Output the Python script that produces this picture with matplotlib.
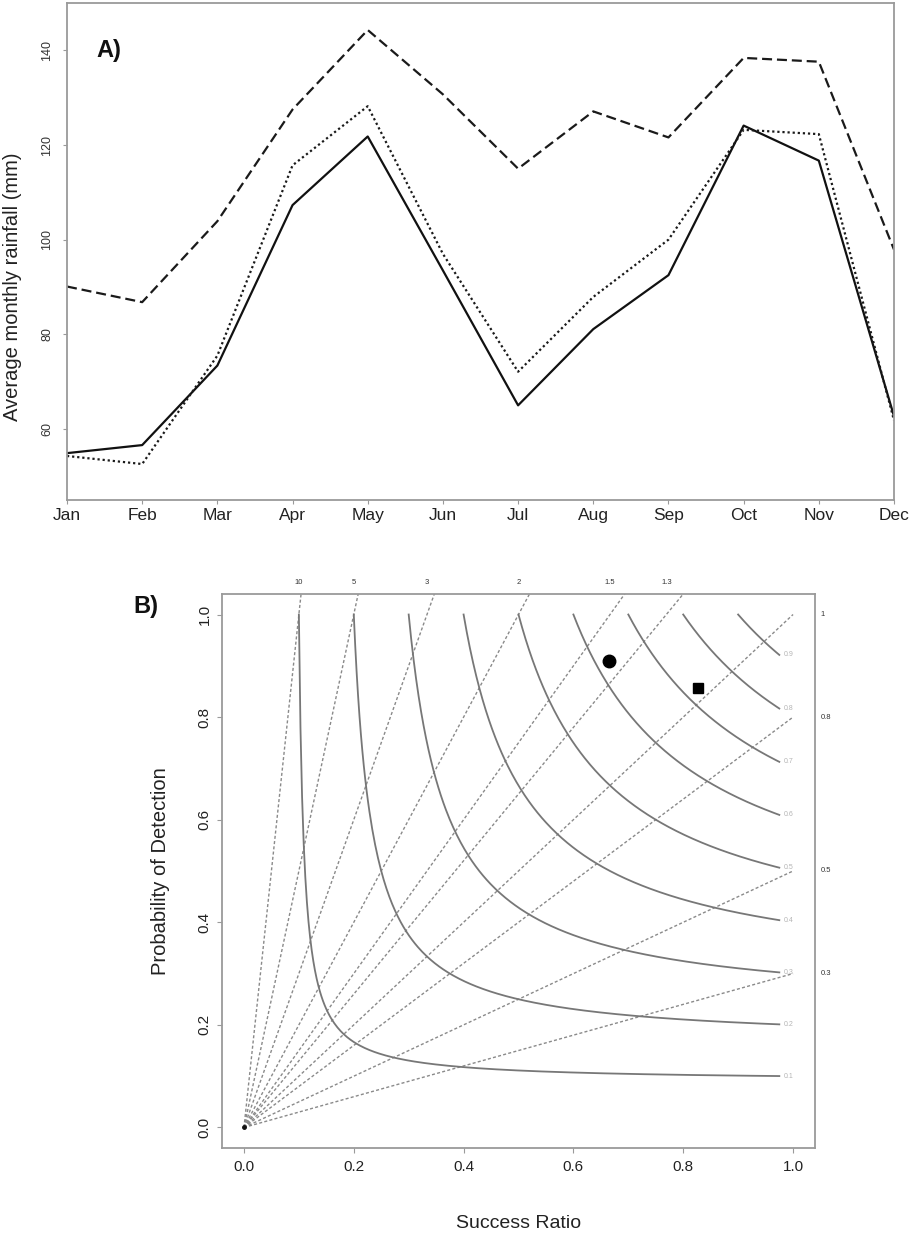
import numpy as np
import matplotlib
matplotlib.use("Agg")
import matplotlib.pyplot as plt

# ---------------- data ----------------
months = ['Jan', 'Feb', 'Mar', 'Apr', 'May', 'Jun', 'Jul', 'Aug', 'Sep', 'Oct', 'Nov', 'Dec']
rain_dashed = [90.1, 86.8, 103.9, 127.5, 144.3, 130.7, 115.0, 127.1, 121.6, 138.4, 137.6, 97.9]
rain_solid = [54.9, 56.6, 73.4, 107.3, 121.8, 93.5, 65.0, 81.1, 92.5, 124.1, 116.7, 62.7]
rain_dotted = [54.3, 52.6, 75.5, 115.7, 128.2, 97.0, 72.1, 87.9, 100.0, 123.2, 122.3, 61.8]
rain_yticks = [60, 80, 100, 120, 140]

csi_levels = [0.1, 0.2, 0.3, 0.4, 0.5, 0.6, 0.7, 0.8, 0.9]
bias_levels = [0.3, 0.5, 0.8, 1, 1.3, 1.5, 2, 3, 5, 10]
bias_labels = ['0.3', '0.5', '0.8', '1', '1.3', '1.5', '2', '3', '5', '10']
point_circle = (0.665, 0.91)
point_square = (0.827, 0.857)
perf_ticks = [0.0, 0.2, 0.4, 0.6, 0.8, 1.0]
perf_ticklabels = ['0.0', '0.2', '0.4', '0.6', '0.8', '1.0']

SANS = ['Liberation Sans', 'DejaVu Sans']
plt.rcParams['font.family'] = SANS

fig = plt.figure(figsize=(9.13, 12.33), dpi=100)
spine_col = '#9a9a9a'

# ---------------- panel A ----------------
ax = fig.add_axes([67/913, 1-500/1233, 827/913, 497/1233])
x = np.arange(1, 13)
ax.plot(x, rain_dashed, color='#1a1a1a', lw=1.6, dashes=(4.5, 2.2))
ax.plot(x, rain_solid, color='#111111', lw=1.6)
ax.plot(x, rain_dotted, color='#1a1a1a', lw=1.6, dashes=(1, 1.3))
ax.set_xlim(1, 12)
ax.set_ylim(45, 150)
ax.set_xticks(x)
ax.set_xticklabels(months, fontsize=12.5, color='#222222')
ax.set_yticks(rain_yticks)
ax.set_yticklabels([str(v) for v in rain_yticks], rotation=90, va='center',
                   fontsize=9, color='#333333')
ax.tick_params(axis='both', length=3, width=0.8, color=spine_col, pad=2)
ax.tick_params(axis='y', pad=7)
ax.tick_params(axis='x', pad=3)
for s in ax.spines.values():
    s.set_color(spine_col)
    s.set_linewidth(1.3)
ax.set_ylabel('Average monthly rainfall (mm)', fontsize=14.5, color='#222222')
ax.yaxis.set_label_coords(-0.054, 0.43)
ax.text(0.036, 0.905, 'A)', transform=ax.transAxes, fontsize=17, fontweight='bold',
        color='#111111', ha='left', va='center')

# ---------------- panel B ----------------
bx = fig.add_axes([222/913, 1-1148/1233, 593/913, 554/1233])
bx.set_xlim(-0.04, 1.04)
bx.set_ylim(-0.04, 1.04)
grey_line = '#777777'

# bias lines
xs = np.linspace(0, 1, 200)
for b, lab in zip(bias_levels, bias_labels):
    bx.plot(xs, b * xs, color='#8a8a8a', lw=1.0, dashes=(2.2, 1.6), clip_on=True)
    if b <= 1:
        bx.text(1.05, b, lab, fontsize=5.5, color='#333333', ha='left', va='center',
                clip_on=False)
    else:
        bx.text(1 / b, 1.055, lab, fontsize=5.5, color='#333333', ha='center',
                va='bottom', clip_on=False)

# CSI curves
for c in csi_levels:
    sr = np.linspace(c, 0.975, 300)
    pod = 1.0 / (1.0 / c + 1.0 - 1.0 / sr)
    bx.plot(sr, pod, color=grey_line, lw=1.3)
    bx.text(sr[-1] + 0.008, pod[-1], '%.1f' % c, fontsize=5, color='#b5b5b5',
            ha='left', va='center')

bx.plot(0, 0, 'o', color='#111111', ms=2.5)
bx.plot(*point_circle, 'o', color='black', ms=9)
bx.plot(*point_square, 's', color='black', ms=7.5)

bx.set_xticks(perf_ticks)
bx.set_xticklabels(perf_ticklabels, fontsize=11, color='#222222')
bx.set_yticks(perf_ticks)
bx.set_yticklabels(perf_ticklabels, rotation=90, va='center', fontsize=11, color='#222222')
bx.tick_params(axis='both', length=3.5, width=0.8, color=spine_col)
bx.tick_params(axis='x', pad=5)
bx.tick_params(axis='y', pad=4)
for s in bx.spines.values():
    s.set_color(spine_col)
    s.set_linewidth(1.3)
bx.set_xlabel('Success Ratio', fontsize=14, color='#222222', labelpad=30)
bx.set_ylabel('Probability of Detection', fontsize=14.5, color='#222222', labelpad=20)
fig.text(133/913, 1-607/1233, 'B)', fontsize=17, fontweight='bold', color='#111111',
         ha='left', va='center')

fig.savefig('out.png', dpi=100, facecolor='white')
